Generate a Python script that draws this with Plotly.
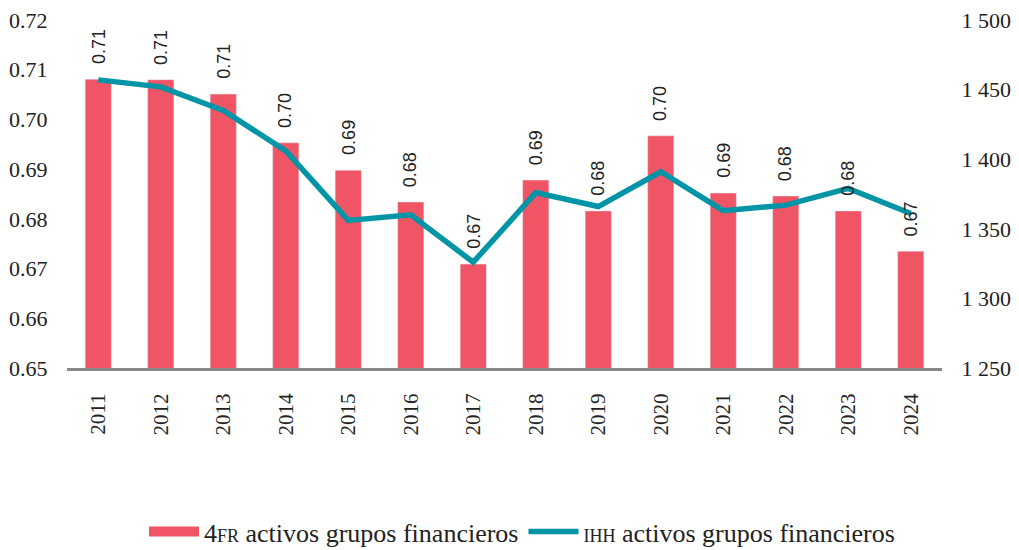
import plotly.graph_objects as go

years = ['2011', '2012', '2013', '2014', '2015', '2016', '2017',
         '2018', '2019', '2020', '2021', '2022', '2023', '2024']
fr4 = [0.7081, 0.7080, 0.7051, 0.6953, 0.6898, 0.6834, 0.6709,
       0.6878, 0.6816, 0.6967, 0.6852, 0.6846, 0.6816, 0.6735]
ihh = [1457, 1452, 1435, 1406, 1356, 1360, 1326,
       1376, 1366, 1391, 1363, 1367, 1379, 1361]

BAR_COLOR = '#F05565'
LINE_COLOR = '#0095A6'
SERIF = 'Liberation Serif, Times New Roman, serif'
SANS = 'Liberation Sans, Arial, sans-serif'
NO_TICK = 'rgba(0,0,0,0)'

fig = go.Figure()

fig.add_trace(go.Bar(
    x=years, y=fr4,
    marker=dict(color=BAR_COLOR),
    showlegend=False,
))

fig.add_trace(go.Scatter(
    x=years, y=ihh,
    mode='lines',
    line=dict(color=LINE_COLOR, width=5.5),
    yaxis='y2',
    showlegend=False,
))

# legend entries (wide swatches like the original)
fig.add_trace(go.Scatter(
    x=[years[0]], y=[None], mode='lines',
    line=dict(color=BAR_COLOR, width=13),
    name="4<span style='font-size:18px'>FR</span> activos grupos financieros",
))
fig.add_trace(go.Scatter(
    x=[years[0]], y=[None], mode='lines',
    line=dict(color=LINE_COLOR, width=5.5),
    name="<span style='font-size:18px'>IHH</span> activos grupos financieros",
))

# value labels above the bars (x as category index, since years look numeric)
for i, v in enumerate(fr4):
    fig.add_annotation(
        x=i, y=v, text=f'{v:.2f}',
        textangle=-90, showarrow=False,
        yanchor='bottom', yshift=13,
        font=dict(family=SANS, size=18, color='#222222'),
    )

# page body adds an 8px margin, so the figure is a bit smaller than the window
fig.update_layout(
    width=1011, height=542,
    margin=dict(l=59, r=77, t=12, b=182, autoexpand=False),
    paper_bgcolor='white',
    plot_bgcolor='white',
    bargap=0.58,
    separators='. ',
    font=dict(family=SERIF, color='#222222'),
    legend=dict(
        orientation='h',
        x=0.52, xanchor='center',
        y=-0.47, yanchor='middle',
        font=dict(family=SERIF, size=26, color='#222222'),
        itemwidth=50,
        tracegroupgap=0,
    ),
    xaxis=dict(
        type='category',
        tickangle=-90,
        tickfont=dict(family=SERIF, size=21),
        showline=True, linecolor='#888888', linewidth=3,
        showgrid=False,
        ticks='outside', ticklen=14, tickcolor=NO_TICK,
        automargin=False,
    ),
    yaxis=dict(
        range=[0.65, 0.72],
        dtick=0.01,
        tickformat='.2f',
        tickfont=dict(family=SERIF, size=22),
        showgrid=False, zeroline=False,
        ticks='outside', ticklen=14, tickcolor=NO_TICK,
        automargin=False,
        ticklabeloverflow='allow',
    ),
    yaxis2=dict(
        overlaying='y', side='right',
        range=[1250, 1500],
        dtick=50,
        tickformat=',d',
        tickfont=dict(family=SERIF, size=22),
        showgrid=False, zeroline=False,
        ticks='outside', ticklen=14, tickcolor=NO_TICK,
        automargin=False,
        ticklabeloverflow='allow',
    ),
)

fig.write_html('out.html')
